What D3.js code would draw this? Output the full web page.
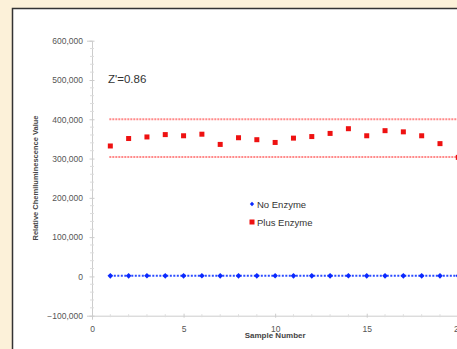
<!DOCTYPE html>
<html>
<head>
	<meta charset="utf-8">
	<script src="https://cdn.jsdelivr.net/npm/d3@7/dist/d3.min.js"></script>
	<style>
		body { margin: 0; background: #fcf1d9; }
		svg { display: block; font-family: "Liberation Sans", Arial, sans-serif; }
		.tick text { fill: #555; font-size: 8.5px; }
	</style>
</head>
<body>
	<svg id="chart" width="457" height="349"></svg>
	<script>
		// chart data
		var samples = d3.range(1, 21);
		var noEnzyme = [1500, 1400, 1600, 1500, 1450, 1550, 1500, 1400, 1500, 1600,
			1500, 1450, 1500, 1550, 1500, 1400, 1500, 1500, 1450, 1500];
		var plusEnzyme = [332000, 351000, 355000, 361000, 358000, 362000, 336000, 353000, 348000, 341000,
			352000, 356000, 364000, 376000, 358000, 371000, 368000, 358000, 338000, 303000];
		var limits = [400000, 304000];
		var yTicks = [-100000, 0, 100000, 200000, 300000, 400000, 500000, 600000];
		var xTicks = [0, 5, 10, 15, 20];
		var seriesNames = ["No Enzyme", "Plus Enzyme"];
		var zPrime = "Z'=0.86";

		var svg = d3.select("#chart");

		// white panel with dark frame, cropped on the right and bottom
		svg.append("rect")
			.attr("x", 12.5).attr("y", 8.5)
			.attr("width", 470).attr("height", 360)
			.attr("fill", "white")
			.attr("stroke", "#333")
			.attr("stroke-width", 1.5);

		var x = d3.scaleLinear().domain([0, 20]).range([92, 458.3]);
		var y = d3.scaleLinear().domain([-100000, 600000]).range([315.7, 40.7]);

		var fmt = d3.format(",");

		// y axis
		var yAxis = svg.append("g")
			.attr("transform", "translate(92,0)")
			.call(d3.axisLeft(y).tickValues(yTicks).tickFormat(fmt).tickSize(5).tickPadding(4));
		yAxis.select(".domain").attr("stroke", "#ccc");
		yAxis.selectAll(".tick line").attr("stroke", "#ccc").attr("transform", "translate(2.5,0)");
		svg.append("g")
			.selectAll("line")
			.data(d3.range(-100000, 600001, 20000).filter(d => d % 100000 !== 0))
			.enter().append("line")
			.attr("x1", 90).attr("x2", 94)
			.attr("y1", d => y(d)).attr("y2", d => y(d))
			.attr("stroke", "#ddd");

		// x axis
		var xAxis = svg.append("g")
			.attr("transform", "translate(0," + y(-100000) + ")")
			.call(d3.axisBottom(x).tickValues(xTicks).tickSize(4).tickPadding(6));
		xAxis.select(".domain").attr("stroke", "#ccc");
		xAxis.selectAll(".tick line").attr("stroke", "#ccc").attr("transform", "translate(0,-2)");
		svg.append("g")
			.selectAll("line")
			.data(d3.range(1, 21).filter(d => d % 5 !== 0))
			.enter().append("line")
			.attr("x1", d => x(d)).attr("x2", d => x(d))
			.attr("y1", y(-100000) - 1.5).attr("y2", y(-100000) + 1.5)
			.attr("stroke", "#ddd");

		// axis titles
		svg.append("text")
			.attr("x", x(10)).attr("y", 338)
			.attr("text-anchor", "middle")
			.attr("font-size", 8).attr("font-weight", "bold").attr("fill", "#444")
			.text("Sample Number");
		svg.append("text")
			.attr("transform", "translate(38,178) rotate(-90)")
			.attr("text-anchor", "middle")
			.attr("font-size", 7.5).attr("font-weight", "bold").attr("fill", "#444")
			.text("Relative Chemiluminescence Value");

		// limit lines
		svg.append("g")
			.selectAll("line")
			.data(limits)
			.enter().append("line")
			.attr("x1", x(1) - 1).attr("x2", x(21))
			.attr("y1", d => y(d)).attr("y2", d => y(d))
			.attr("stroke", "#ff8a8a")
			.attr("stroke-width", 2)
			.attr("stroke-dasharray", "2,1");

		// no enzyme series
		var line = d3.line()
			.x((d, i) => x(samples[i]))
			.y(d => y(d));
		svg.append("path")
			.datum(noEnzyme)
			.attr("d", line)
			.attr("fill", "none")
			.attr("stroke", "#2b4cff")
			.attr("stroke-width", 2)
			.attr("stroke-dasharray", "2,1.5");
		svg.append("g")
			.selectAll("path")
			.data(noEnzyme)
			.enter().append("path")
			.attr("d", d3.symbol(d3.symbolDiamond2, 20))
			.attr("transform", (d, i) => "translate(" + x(samples[i]) + "," + y(d) + ")")
			.attr("fill", "#0a28ff");

		// plus enzyme series
		svg.append("g")
			.selectAll("rect")
			.data(plusEnzyme)
			.enter().append("rect")
			.attr("x", (d, i) => x(samples[i]) - 2.5)
			.attr("y", d => y(d) - 2.5)
			.attr("width", 5).attr("height", 5)
			.attr("fill", "#ee1111");

		// Z' annotation
		svg.append("text")
			.attr("x", 108).attr("y", 83)
			.attr("font-size", 11.5).attr("fill", "#333")
			.text(zPrime);

		// legend
		var legend = svg.append("g").attr("transform", "translate(252,204)");
		legend.append("path")
			.attr("d", d3.symbol(d3.symbolDiamond2, 12))
			.attr("fill", "#0a28ff");
		legend.append("rect")
			.attr("x", -2.5).attr("y", 15.5).attr("width", 5).attr("height", 5)
			.attr("fill", "#ee1111");
		legend.selectAll("text")
			.data(seriesNames)
			.enter().append("text")
			.attr("x", 5).attr("y", (d, i) => i * 18 + 3.5)
			.attr("font-size", 9.5).attr("fill", "#333")
			.text(d => d);
	</script>
</body>
</html>
